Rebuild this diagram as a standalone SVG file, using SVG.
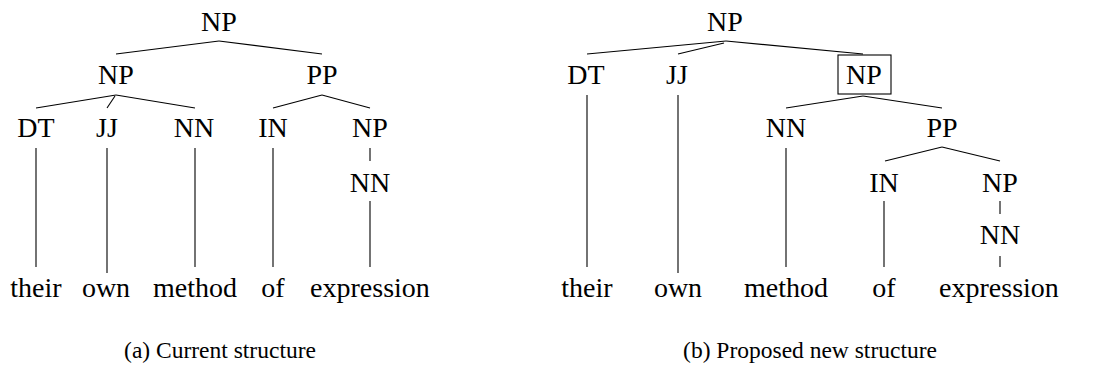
<svg xmlns="http://www.w3.org/2000/svg" width="1097" height="367" viewBox="0 0 1097 367">
<style>
.e line{stroke:#000;stroke-width:1.1}
.box{fill:none;stroke:#000;stroke-width:1.1}
</style>
<rect width="1097" height="367" fill="#fff"/>
<g id="treeA">
<g class="e" id="edgesA">
<line x1="219" y1="41" x2="116" y2="54"/>
<line x1="219" y1="41" x2="322" y2="54"/>
<line x1="116" y1="95" x2="36" y2="108"/>
<line x1="115" y1="96" x2="107" y2="108"/>
<line x1="116" y1="95" x2="195" y2="108"/>
<line x1="322" y1="95" x2="273" y2="108"/>
<line x1="322" y1="95" x2="370" y2="108"/>
<line x1="36" y1="148" x2="36" y2="267"/>
<line x1="107" y1="148" x2="107" y2="273"/>
<line x1="195" y1="148" x2="195" y2="267"/>
<line x1="273" y1="148" x2="273" y2="267"/>
<line x1="370" y1="148" x2="370" y2="161"/>
<line x1="370" y1="201" x2="370" y2="267"/>
</g>
<g id="a-np-root"><text x="219" y="31" font-size="28" font-family="Liberation Serif" text-anchor="middle">NP</text></g>
<g id="a-np"><text x="116" y="84" font-size="28" font-family="Liberation Serif" text-anchor="middle">NP</text></g>
<g id="a-pp"><text x="322" y="84" font-size="28" font-family="Liberation Serif" text-anchor="middle">PP</text></g>
<g id="a-dt"><text x="36" y="137" font-size="28" font-family="Liberation Serif" text-anchor="middle">DT</text></g>
<g id="a-jj"><text x="107" y="137" font-size="28" font-family="Liberation Serif" text-anchor="middle">JJ</text></g>
<g id="a-nn"><text x="194" y="137" font-size="28" font-family="Liberation Serif" text-anchor="middle">NN</text></g>
<g id="a-in"><text x="273" y="137" font-size="28" font-family="Liberation Serif" text-anchor="middle">IN</text></g>
<g id="a-np2"><text x="370" y="137" font-size="28" font-family="Liberation Serif" text-anchor="middle">NP</text></g>
<g id="a-nn2"><text x="370" y="192" font-size="28" font-family="Liberation Serif" text-anchor="middle">NN</text></g>
<g id="a-their"><text x="36" y="297" font-size="28" font-family="Liberation Serif" text-anchor="middle">their</text></g>
<g id="a-own"><text x="106" y="297" font-size="28" font-family="Liberation Serif" text-anchor="middle">own</text></g>
<g id="a-method"><text x="195" y="297" font-size="28" font-family="Liberation Serif" text-anchor="middle">method</text></g>
<g id="a-of"><text x="273" y="297" font-size="28" font-family="Liberation Serif" text-anchor="middle">of</text></g>
<g id="a-expression"><text x="370" y="297" font-size="28" font-family="Liberation Serif" text-anchor="middle">expression</text></g>
<g id="a-caption"><text x="220" y="358" font-size="23.5" font-family="Liberation Serif" text-anchor="middle">(a) Current structure</text></g>
</g>
<g id="treeB">
<g class="e" id="edgesB">
<line x1="726" y1="41" x2="587" y2="54"/>
<line x1="724" y1="43" x2="678" y2="54"/>
<line x1="726" y1="41" x2="863" y2="54"/>
<line x1="863" y1="96" x2="786" y2="108"/>
<line x1="863" y1="96" x2="942" y2="108"/>
<line x1="942" y1="147" x2="885" y2="161"/>
<line x1="942" y1="147" x2="1000" y2="161"/>
<line x1="587" y1="95" x2="587" y2="267"/>
<line x1="678" y1="95" x2="678" y2="273"/>
<line x1="786" y1="148" x2="786" y2="267"/>
<line x1="884" y1="201" x2="884" y2="267"/>
<line x1="1000" y1="201" x2="1000" y2="214"/>
<line x1="1000" y1="256" x2="1000" y2="267"/>
</g>
<g id="b-np-root"><text x="725" y="31" font-size="28" font-family="Liberation Serif" text-anchor="middle">NP</text></g>
<g id="b-dt"><text x="586" y="84" font-size="28" font-family="Liberation Serif" text-anchor="middle">DT</text></g>
<g id="b-jj"><text x="677" y="84" font-size="28" font-family="Liberation Serif" text-anchor="middle">JJ</text></g>
<g id="b-np"><rect class="box" x="838" y="55" width="53" height="39"/><text x="864" y="84" font-size="28" font-family="Liberation Serif" text-anchor="middle">NP</text></g>
<g id="b-nn"><text x="786" y="137" font-size="28" font-family="Liberation Serif" text-anchor="middle">NN</text></g>
<g id="b-pp"><text x="942" y="137" font-size="28" font-family="Liberation Serif" text-anchor="middle">PP</text></g>
<g id="b-in"><text x="884" y="192" font-size="28" font-family="Liberation Serif" text-anchor="middle">IN</text></g>
<g id="b-np2"><text x="1000" y="192" font-size="28" font-family="Liberation Serif" text-anchor="middle">NP</text></g>
<g id="b-nn2"><text x="1000" y="244" font-size="28" font-family="Liberation Serif" text-anchor="middle">NN</text></g>
<g id="b-their"><text x="587" y="297" font-size="28" font-family="Liberation Serif" text-anchor="middle">their</text></g>
<g id="b-own"><text x="678" y="297" font-size="28" font-family="Liberation Serif" text-anchor="middle">own</text></g>
<g id="b-method"><text x="786" y="297" font-size="28" font-family="Liberation Serif" text-anchor="middle">method</text></g>
<g id="b-of"><text x="884" y="297" font-size="28" font-family="Liberation Serif" text-anchor="middle">of</text></g>
<g id="b-expression"><text x="999" y="297" font-size="28" font-family="Liberation Serif" text-anchor="middle">expression</text></g>
<g id="b-caption"><text x="810" y="358" font-size="23.5" font-family="Liberation Serif" text-anchor="middle">(b) Proposed new structure</text></g>
</g>
</svg>
